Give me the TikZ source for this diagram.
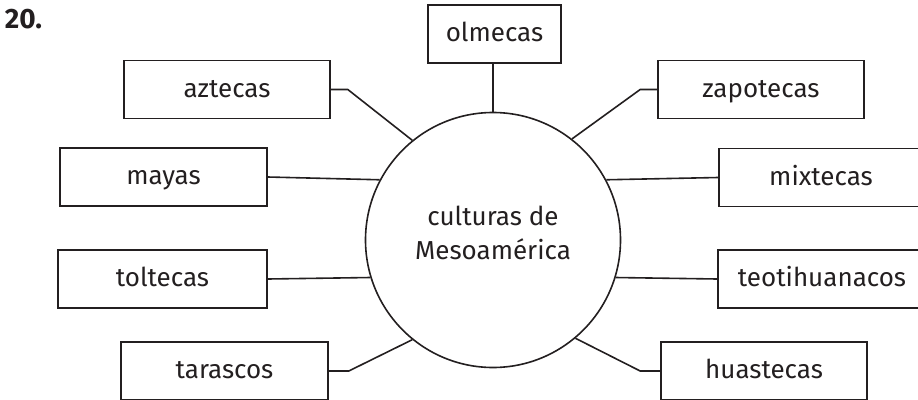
\documentclass[tikz,border=0pt]{standalone}
\usepackage{fontspec}
\setmainfont{Fira Sans}
\definecolor{tinta}{HTML}{231F20}
\begin{document}
\begin{tikzpicture}[x=1pt, y=-1pt, line width=1.6pt, draw=tinta, text=tinta,
    caja/.style={draw, minimum height=58pt, inner sep=0pt, text height=15.6pt, text depth=0pt,
                 font=\fontsize{26}{30}\selectfont},
  ]
    \useasboundingbox (0,0) rectangle (918,399);
    \clip (0,0) rectangle (918,399);

    % 题号
    \node[font=\bfseries\fontsize{28}{32}\selectfont, anchor=north west, inner sep=0pt] (num) at (4,8) {20.};

    % 中心圆
    \node[circle, draw, minimum size=255pt, inner sep=0pt, align=center, text depth=14pt,
          font=\fontsize{26}{34}\selectfont] (c) at (493,240) {culturas de\\Mesoamérica};

    % 左侧
    \node[caja, minimum width=206pt] (azt) at (227,89.5) {aztecas};
    \node[caja, minimum width=207pt] (may) at (163.5,177) {mayas};
    \node[caja, minimum width=209pt] (tol) at (162.5,279) {toltecas};
    \node[caja, minimum width=207pt] (tar) at (224.5,371) {tarascos};

    % 上方
    \node[caja, minimum width=133pt] (olm) at (494.5,34) {olmecas};

    % 右侧
    \node[caja, minimum width=206pt] (zap) at (761,89.5) {zapotecas};
    \node[caja, minimum width=204pt] (mix) at (821,177.5) {mixtecas};
    \node[caja, minimum width=208pt] (teo) at (822,279) {teotihuanacos};
    \node[caja, minimum width=206pt] (hua) at (764,371) {huastecas};

    % 连线
    \draw (c.north) -- (c.north |- olm.south);
    \draw (azt.east) -- ++(17,0) -- (c.129);
    \draw (may.east) -- (c.152);
    \draw (tol.east) -- (c.197);
    \draw (tar.east) -- ++(20,0) -- (c.231);
    \draw (zap.west) -- ++(-17,0) -- (c.52);
    \draw (mix.west) -- (c.28);
    \draw (teo.west) -- (c.343);
    \draw (hua.west) -- ++(-20,0) -- (c.310);
\end{tikzpicture}
\end{document}
